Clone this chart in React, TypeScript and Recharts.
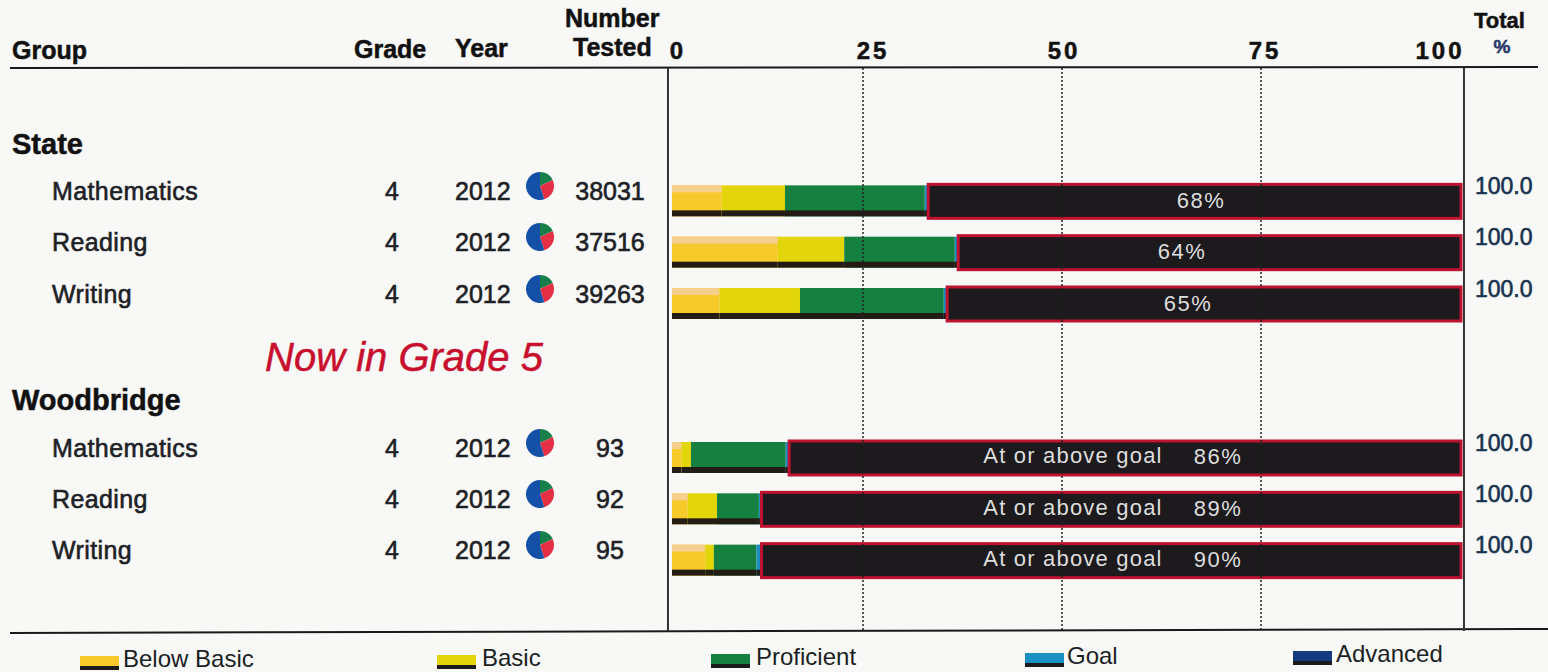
import { BarChart, Bar, XAxis, YAxis, Legend, ReferenceLine, LabelList, PieChart, Pie, Cell } from "recharts";

const FONT = '"Liberation Sans", Arial, sans-serif';
const INK = "#1d2126";

// one row per 51px band; empty rows are the gaps of the printed report
const rowLabels = ["", "State", "Mathematics", "Reading", "Writing", "", "Woodbridge", "Mathematics", "Reading", "Writing", ""];
const grades = [null, null, 4, 4, 4, null, null, 4, 4, 4, null];
const years = [null, null, 2012, 2012, 2012, null, null, 2012, 2012, 2012, null];
const tested = [null, null, 38031, 37516, 39263, null, null, 93, 92, 95, null];
const totals = [null, null, "100.0", "100.0", "100.0", null, null, "100.0", "100.0", "100.0", null];

const belowBasic = [null, null, 6.3, 13.4, 6.0, null, null, 1.2, 2.0, 4.2, null];
const basic = [null, null, 8.0, 8.4, 10.2, null, null, 1.2, 3.7, 1.1, null];
const proficient = [null, null, 17.7, 14.0, 18.2, null, null, 12.0, 5.3, 5.4, null];
const goal = [null, null, 0.3, 0.3, 0.3, null, null, 0.3, 0.2, 0.5, null];
const advanced = [null, null, 67.7, 63.9, 65.3, null, null, 85.3, 88.8, 88.8, null];

const barLabels = [null, null, "68%", "64%", "65%", null, null, "86%", "89%", "90%", null];
const goalCaption = [false, false, false, false, false, false, false, true, true, true, false];

const axisTicks = [0, 25, 50, 75, 100];
const legendNames = ["Below Basic", "Basic", "Proficient", "Goal", "Advanced"];
const legendColors = ["#f7c92a", "#e2d50a", "#15803f", "#1a8fc4", "#143a80"];

const pieParts = [18, 27, 55];
const pieColors = ["#17804a", "#e42f45", "#1450a8"];

// layout of the page furniture, kept apart from the values
const tickShift: Record<number, number> = { 0: 14, 25: 10, 50: 2, 75: 4, 100: -20 };
const pctX: Record<number, number> = { 2: 1201, 3: 1182, 4: 1188, 7: 1218, 8: 1218, 9: 1218 };
const legendSlots = [
  { x: 80, text: 123, y: 653 },
  { x: 437, text: 482, y: 652 },
  { x: 711, text: 756, y: 651 },
  { x: 1025, text: 1067, y: 650 },
  { x: 1293, text: 1336, y: 648 },
];
const pieRows = [2, 3, 4, 7, 8, 9];

const rows = rowLabels.map((label, i) => ({
  label,
  belowBasic: belowBasic[i],
  basic: basic[i],
  proficient: proficient[i],
  goal: goal[i],
  advanced: advanced[i],
}));

function RowTick({ y, index }: any) {
  const label = rowLabels[index];
  const isGroup = label !== "" && grades[index] === null;
  const common = { fontFamily: FONT, fill: INK, fontSize: 25, stroke: INK, strokeWidth: 0.6 };
  if (isGroup) {
    return (
      <text x={12} y={y + 4} fontFamily={FONT} fontWeight="bold" fontSize={29} fill="#111" stroke="#111" strokeWidth={0.5}>
        {label}
      </text>
    );
  }
  if (!label) return null;
  return (
    <g>
      <text x={52} y={y - 1} {...common} letterSpacing={0.4}>
        {label}
      </text>
      <text x={392} y={y - 1} {...common} textAnchor="middle">
        {grades[index]}
      </text>
      <text x={455} y={y - 1} {...common}>
        {years[index]}
      </text>
      <text x={610} y={y - 1} {...common} textAnchor="middle">
        {tested[index]}
      </text>
      <text x={1475} y={y - 7} fontFamily={FONT} fontSize={23} fill="#16324f" stroke="#16324f" strokeWidth={0.6}>
        {totals[index]}
      </text>
    </g>
  );
}

function ScaleTick({ x, payload }: any) {
  return (
    <text
      x={x + tickShift[payload.value]}
      y={59}
      textAnchor="middle"
      fontFamily={FONT}
      fontWeight="bold"
      fontSize={24}
      letterSpacing={3}
      fill="#111"
      stroke="#111"
      strokeWidth={0.5}
    >
      {payload.value}
    </text>
  );
}

// printed bars: flat colour, lighter top on the first band and a dark foot
function BandShape({ x, y, width, height, fill, topTint }: any) {
  if (!width || width <= 0) return <g />;
  return (
    <g>
      <rect x={x} y={y} width={width} height={height} fill={fill} />
      {topTint ? <rect x={x} y={y} width={width} height={7} fill={topTint} /> : null}
      <rect x={x} y={y + height - 6} width={width} height={6} fill="#221c14" />
    </g>
  );
}

function AdvancedShape({ x, y, width, height }: any) {
  if (!width || width <= 0) return <g />;
  return <rect x={x + 1} y={y - 1} width={width - 2} height={height + 3} fill="#1c1a1c" stroke="#bd1230" strokeWidth={3} />;
}

function BarCaption({ y, height, index }: any) {
  if (!barLabels[index]) return null;
  const cy = y + height / 2 + 7;
  const style = { fontFamily: FONT, fontSize: 22, fill: "#dedede" };
  return (
    <g>
      {goalCaption[index] ? (
        <text x={1073} y={cy - 1} textAnchor="middle" {...style} letterSpacing={1.2}>
          At or above goal
        </text>
      ) : null}
      <text x={pctX[index]} y={cy} textAnchor="middle" {...style} letterSpacing={1.5}>
        {barLabels[index]}
      </text>
    </g>
  );
}

function LegendRow() {
  return (
    <div style={{ position: "relative", height: 0 }}>
      {legendNames.map((name, i) => {
        const slot = legendSlots[i];
        return (
          <div key={name}>
            <div
              style={{
                position: "absolute",
                left: slot.x,
                top: slot.y - 640 + 3,
                width: 39,
                height: 14,
                background: legendColors[i],
                borderBottom: "4px solid #1b1b1b",
                boxSizing: "border-box",
              }}
            />
            <div
              style={{
                position: "absolute",
                left: slot.text,
                top: slot.y - 640 - 5,
                fontFamily: FONT,
                fontSize: 24,
                lineHeight: "22px",
                color: "#1b1f24",
                whiteSpace: "nowrap",
              }}
            >
              {name}
            </div>
          </div>
        );
      })}
    </div>
  );
}

function MiniPie({ rowIndex }: { rowIndex: number }) {
  const top = 72.7 + 51.33 * (rowIndex + 0.5) - 15 - 15;
  return (
    <div style={{ position: "absolute", left: 525, top }}>
      <PieChart width={30} height={30} margin={{ top: 0, right: 0, bottom: 0, left: 0 }}>
        <Pie
          data={pieParts.map((value) => ({ value }))}
          dataKey="value"
          cx="50%"
          cy="50%"
          innerRadius={0}
          outerRadius={14}
          startAngle={90}
          endAngle={-270}
          stroke="none"
          isAnimationActive={false}
        >
          {pieParts.map((_, i) => (
            <Cell key={i} fill={pieColors[i]} />
          ))}
        </Pie>
      </PieChart>
    </div>
  );
}

export default function App() {
  const headText = { fontFamily: FONT, fontWeight: "bold", fontSize: 25, fill: "#111", stroke: "#111", strokeWidth: 0.5 };
  return (
    <div style={{ position: "absolute", left: 0, top: 0, width: 1548, height: 672, background: "#f8f8f6", overflow: "hidden" }}>
      <BarChart
        layout="vertical"
        width={1548}
        height={672}
        data={rows}
        margin={{ top: 0, right: 84, bottom: 41, left: 0 }}
        barSize={31}
        barCategoryGap={0}
      >
        <XAxis xAxisId="bars" type="number" domain={[0, 100]} hide padding={{ left: 8, right: 2 }} />
        <XAxis
          xAxisId="scale"
          type="number"
          orientation="top"
          domain={[0, 100]}
          allowDataOverflow
          ticks={axisTicks}
          height={68}
          padding={{ left: 0, right: 4 }}
          axisLine={false}
          tickLine={false}
          tick={<ScaleTick />}
        />
        <YAxis
          type="category"
          dataKey="label"
          width={664}
          interval={0}
          axisLine={false}
          tickLine={false}
          padding={{ top: 4.7, bottom: -6.3 }}
          tick={<RowTick />}
        />
        <ReferenceLine xAxisId="scale" x={25} stroke="#222" strokeWidth={1.5} strokeDasharray="2 2" />
        <ReferenceLine xAxisId="scale" x={50} stroke="#222" strokeWidth={1.5} strokeDasharray="2 2" />
        <ReferenceLine xAxisId="scale" x={75} stroke="#222" strokeWidth={1.5} strokeDasharray="2 2" />
        <ReferenceLine xAxisId="scale" x={0.5} stroke="#333" strokeWidth={2} ifOverflow="visible" />
        <ReferenceLine xAxisId="scale" x={100.5} stroke="#333" strokeWidth={2} ifOverflow="visible" />
        <Bar
          xAxisId="bars"
          dataKey="belowBasic"
          name="Below Basic"
          stackId="a"
          fill="#f7c92a"
          isAnimationActive={false}
          shape={<BandShape topTint="#f5cf8e" />}
        />
        <Bar xAxisId="bars" dataKey="basic" name="Basic" stackId="a" fill="#e2d50a" isAnimationActive={false} shape={<BandShape />} />
        <Bar xAxisId="bars" dataKey="proficient" name="Proficient" stackId="a" fill="#15803f" isAnimationActive={false} shape={<BandShape />} />
        <Bar xAxisId="bars" dataKey="goal" name="Goal" stackId="a" fill="#1a8fc4" isAnimationActive={false} shape={<BandShape />} />
        <Bar xAxisId="bars" dataKey="advanced" name="Advanced" stackId="a" fill="#1c1a1c" isAnimationActive={false} shape={<AdvancedShape />}>
          <LabelList dataKey="advanced" content={<BarCaption />} />
        </Bar>
        <Legend content={<LegendRow />} wrapperStyle={{ left: 0, top: 640, width: 1548 }} />
        <line x1={10} y1={68} x2={1538} y2={67} stroke="#1a1a1a" strokeWidth={2} />
        <line x1={10} y1={633} x2={1548} y2={629} stroke="#1a1a1a" strokeWidth={2} />
        <text x={12} y={59} {...headText}>Group</text>
        <text x={354} y={58} {...headText}>Grade</text>
        <text x={455} y={57} {...headText}>Year</text>
        <text x={565} y={27} {...headText}>Number</text>
        <text x={573} y={56} {...headText}>Tested</text>
        <text x={1474} y={28} {...headText} fontSize={22}>Total</text>
        <text x={1502} y={53} {...headText} fontSize={19} textAnchor="middle" fill="#2a3a6a" stroke="#2a3a6a">%</text>
        <text x={265} y={371} fontFamily={FONT} fontStyle="italic" fontSize={40} fill="#c8102e" stroke="#c8102e" strokeWidth={0.5}>Now in Grade 5</text>
      </BarChart>
      {pieRows.map((r) => (
        <MiniPie key={r} rowIndex={r} />
      ))}
    </div>
  );
}
